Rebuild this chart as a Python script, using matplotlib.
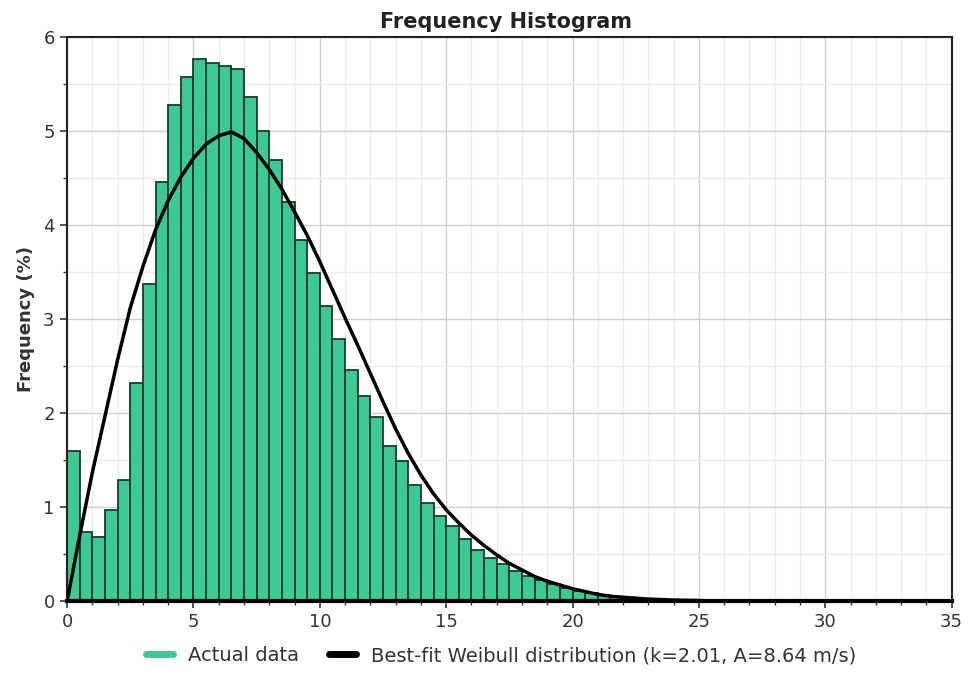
import numpy as np
import matplotlib
matplotlib.use('Agg')
import matplotlib.pyplot as plt
from matplotlib.lines import Line2D
from matplotlib.ticker import MultipleLocator

largura_bin = 0.5  # m/s

# frequencia (%) por bin de 0.5 m/s, a partir de 0
freq_pct = [
    1.60, 0.73, 0.68, 0.97, 1.29, 2.32, 3.37, 4.46, 5.28, 5.57,
    5.77, 5.72, 5.69, 5.66, 5.36, 5.00, 4.69, 4.25, 3.84, 3.49,
    3.14, 2.79, 2.46, 2.18, 1.96, 1.65, 1.49, 1.23, 1.04, 0.90,
    0.80, 0.66, 0.54, 0.46, 0.39, 0.32, 0.27, 0.22, 0.18, 0.14,
    0.11, 0.08, 0.06, 0.04, 0.03, 0.02,
]

# curva Weibull ajustada, um ponto a cada 0.5 m/s de 0 a 35
weibull_pct = [
    0.00, 0.70, 1.37, 1.97, 2.57, 3.12, 3.56, 3.95, 4.26, 4.51,
    4.71, 4.86, 4.95, 4.99, 4.92, 4.77, 4.59, 4.38, 4.14, 3.89,
    3.61, 3.31, 3.01, 2.72, 2.42, 2.12, 1.83, 1.57, 1.34, 1.14,
    0.97, 0.83, 0.70, 0.59, 0.49, 0.40, 0.33, 0.26, 0.21, 0.17,
    0.13, 0.10, 0.07, 0.05, 0.04, 0.03, 0.02, 0.015, 0.01, 0.007,
    0.005, 0.0, 0.0, 0.0, 0.0, 0.0, 0.0, 0.0, 0.0, 0.0,
    0.0, 0.0, 0.0, 0.0, 0.0, 0.0, 0.0, 0.0, 0.0, 0.0,
    0.0,
]

titulo = 'Frequency Histogram'
label_barras = 'Actual data'
label_curva = 'Best-fit Weibull distribution (k=2.01, A=8.64 m/s)'

COR_BARRA = '#3ec893'
COR_BORDA = '#173d2a'

# === GRAFICO ===
fig = plt.figure(figsize=(9.73, 6.78), dpi=100)
ax = fig.add_axes([0.069, 0.1136, 0.909, 0.8318])

inicio_bins = np.arange(len(freq_pct)) * largura_bin
ax.bar(inicio_bins, freq_pct, width=largura_bin, align='edge',
       color=COR_BARRA, edgecolor=COR_BORDA, linewidth=1.3, zorder=2)

x_curva = np.arange(len(weibull_pct)) * largura_bin
ax.plot(x_curva, weibull_pct, color='black', linewidth=2.5, zorder=3,
        solid_joinstyle='round')

ax.set_xlim(0, 35)
ax.set_ylim(0, 6)

ax.xaxis.set_major_locator(MultipleLocator(5))
ax.xaxis.set_minor_locator(MultipleLocator(1))
ax.yaxis.set_major_locator(MultipleLocator(1))
ax.yaxis.set_minor_locator(MultipleLocator(0.5))

ax.grid(which='major', color='#cfcfcf', linewidth=1.0, zorder=0)
ax.grid(which='minor', color='#ebebeb', linewidth=1.0, zorder=0)
ax.set_axisbelow(True)

ax.tick_params(which='major', length=5, width=1.2, color='#333333',
               labelsize=13, labelcolor='#333333', pad=4)
ax.tick_params(which='minor', length=3, width=1.0, color='#333333')

for lado in ['top', 'right', 'left']:
    ax.spines[lado].set_color('#222222')
    ax.spines[lado].set_linewidth(1.5)
ax.spines['bottom'].set_color('black')
ax.spines['bottom'].set_linewidth(3)

ax.set_ylabel('Frequency (%)', fontsize=13, fontweight='bold',
              color='#333333', labelpad=6)
fig.text(0.52, 0.968, titulo, ha='center', va='center',
         fontsize=15, fontweight='bold', color='#222222')

handles = [
    Line2D([0], [0], color=COR_BARRA, linewidth=5, solid_capstyle='round'),
    Line2D([0], [0], color='black', linewidth=5, solid_capstyle='round'),
]
fig.legend(handles, [label_barras, label_curva], loc='center',
           bbox_to_anchor=(0.515, 0.033), ncol=2, frameon=False,
           fontsize=14, handlelength=1.4, columnspacing=1.5,
           labelcolor='#333333')

plt.savefig('out.png', dpi=100)
